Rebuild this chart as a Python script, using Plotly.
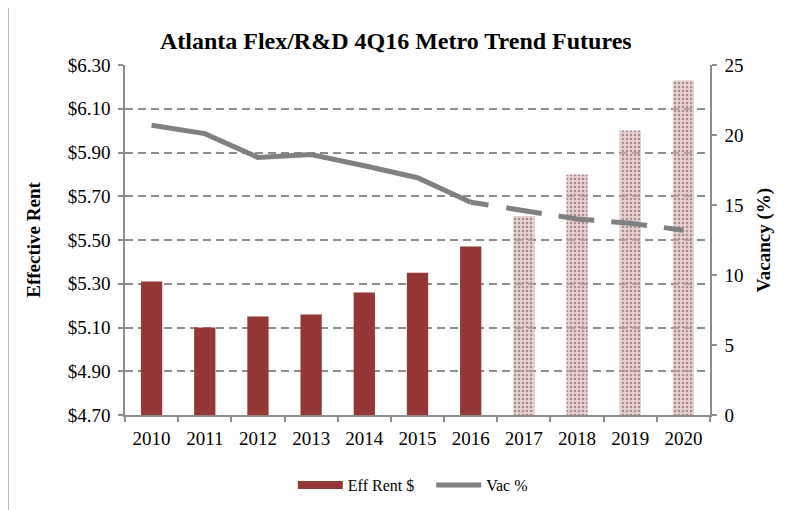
import plotly.graph_objects as go

years = ["2010", "2011", "2012", "2013", "2014", "2015", "2016", "2017", "2018", "2019", "2020"]
eff_rent = [5.31, 5.10, 5.15, 5.16, 5.26, 5.35, 5.47, 5.61, 5.80, 6.00, 6.23]
vac_pct = [20.7, 20.1, 18.4, 18.6, 17.8, 16.95, 15.2, 14.6, 14.0, 13.7, 13.2]
n_actual = 7  # 2010-2016 actual, 2017-2020 forecast

FONT = "Liberation Serif, Times New Roman, serif"
RED = "#953735"
GRAY_LINE = "#808080"
AXIS_GRAY = "#8c8c8c"

fig = go.Figure()

fig.add_trace(go.Bar(
    x=years[:n_actual], y=eff_rent[:n_actual], name="Eff Rent $", showlegend=False,
    marker=dict(color=RED, line=dict(width=0)), width=0.4,
))
fig.add_trace(go.Bar(
    x=years[n_actual:], y=eff_rent[n_actual:], name="Eff Rent $ (forecast)",
    showlegend=False, width=0.4,
    marker=dict(color="rgba(205,170,170,0.55)", line=dict(width=0),
                pattern=dict(shape=".", fgcolor="#b08888", bgcolor="rgba(212,182,182,0.6)",
                             size=4, solidity=0.3, fillmode="replace")),
))
# legend entry for the bars, drawn as a wide swatch like the original
fig.add_trace(go.Scatter(
    x=[None], y=[None], name="Eff Rent $&nbsp;&nbsp;&nbsp;", mode="lines",
    line=dict(color=RED, width=8), hoverinfo="skip",
))
fig.add_trace(go.Scatter(
    x=years[:n_actual], y=vac_pct[:n_actual], name="Vac %", yaxis="y2",
    mode="lines", line=dict(color=GRAY_LINE, width=5),
))
fig.add_trace(go.Scatter(
    x=years[n_actual - 1:], y=vac_pct[n_actual - 1:], name="Vac % (forecast)", yaxis="y2",
    mode="lines", showlegend=False,
    line=dict(color=GRAY_LINE, width=5,
              dash="18px,18px,36px,17px,36px,17px,36px,17px,36px,17px,36px,17px"),
))

fig.update_layout(
    width=793, height=502,
    margin=dict(l=117, r=91, t=57, b=95, autoexpand=False),
    paper_bgcolor="white", plot_bgcolor="white",
    barmode="overlay",
    font=dict(family=FONT, size=19, color="black"),
    title=dict(text="<b>Atlanta Flex/R&D 4Q16 Metro Trend Futures</b>",
               x=0.489, xref="container", xanchor="center",
               y=0.936, yref="container", yanchor="middle",
               font=dict(family=FONT, size=24, color="black")),
    xaxis=dict(type="category", categoryorder="array", categoryarray=years,
               showline=True, linecolor=AXIS_GRAY, linewidth=1.5,
               ticks="outside", ticklen=5, tickcolor=AXIS_GRAY, tickwidth=1.5,
               tickson="boundaries", showgrid=False, automargin=False,
               ticklabelstandoff=5,
               tickfont=dict(family=FONT, size=19)),
    yaxis=dict(range=[4.7, 6.3], dtick=0.2, tick0=4.7, tickprefix="$", tickformat=".2f",
               showline=True, linecolor=AXIS_GRAY, linewidth=1.5,
               ticks="outside", ticklen=5, tickcolor=AXIS_GRAY, tickwidth=1.5,
               showgrid=True, gridcolor=AXIS_GRAY, gridwidth=1.5, griddash="8px,5px",
               zeroline=False, automargin=True, ticklabelstandoff=4,
               title=dict(text="<b>Effective Rent</b>", font=dict(family=FONT, size=19), standoff=22),
               tickfont=dict(family=FONT, size=19)),
    yaxis2=dict(range=[0, 25], dtick=5, overlaying="y", side="right",
                showline=True, linecolor=AXIS_GRAY, linewidth=1.5,
                ticks="outside", ticklen=5, tickcolor=AXIS_GRAY, tickwidth=1.5,
                showgrid=False, zeroline=False, automargin=True, ticklabelstandoff=4,
                title=dict(text="<b>Vacancy (%)</b>", font=dict(family=FONT, size=19), standoff=14),
                tickfont=dict(family=FONT, size=19)),
    legend=dict(orientation="h", x=0.492, xanchor="center", y=-0.2, yanchor="middle",
                font=dict(family=FONT, size=16), bgcolor="rgba(0,0,0,0)", itemwidth=45),
    shapes=[dict(type="rect", xref="paper", yref="paper",
                 x0=(8 - 125) / 585, x1=(830 - 125) / 585,
                 y0=(415 - 540) / 350, y1=(415 - 7) / 350,
                 line=dict(color="#a6a6a6", width=1.5), fillcolor="rgba(0,0,0,0)", layer="below")],
)

fig.write_html("out.html")
